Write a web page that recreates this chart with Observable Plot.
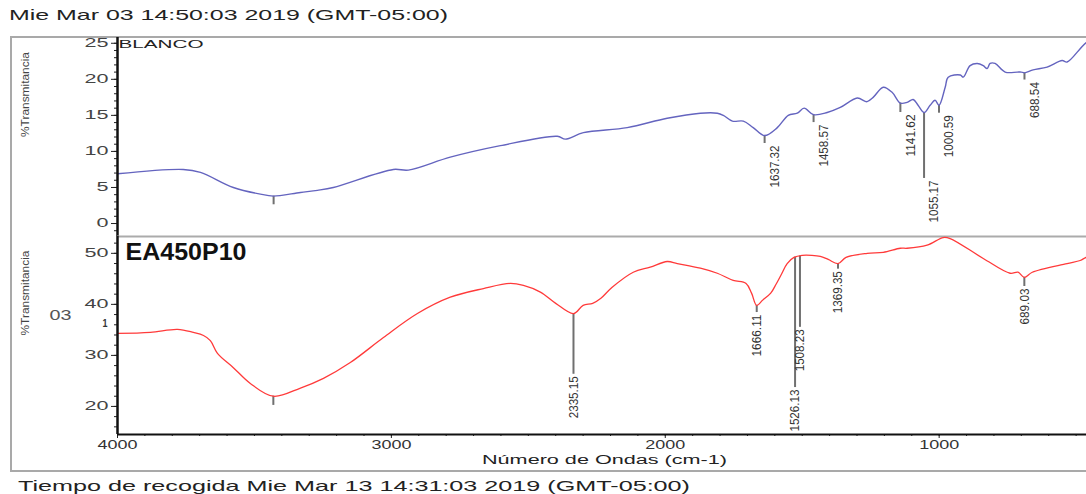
<!DOCTYPE html>
<html>
<head>
<meta charset="utf-8">
<script src="https://cdn.jsdelivr.net/npm/d3@7"></script>
<script src="https://cdn.jsdelivr.net/npm/@observablehq/plot@0.6"></script>
<style>
  html, body { margin: 0; padding: 0; background: #fff; overflow: hidden; }
  body { position: relative; width: 1086px; height: 494px; font-family: "Liberation Sans", Arial, sans-serif; }
  #frame { position: absolute; left: 10px; top: 36px; width: 1200px; height: 432px;
           border: 2px solid #a9a9a9; border-right: none; }
  .layer { position: absolute; left: 0; }
</style>
</head>
<body>
<div id="frame"></div>
<script>
// ---- spectra (wavenumber in cm-1, %T) ----
const wavenumberDomain = [4000, 400];

const blancoWn = [4000, 3760, 3697, 3577, 3453, 3430, 3332, 3270, 3212, 2993,
  2938, 2785, 2602, 2394, 2365, 2299, 2139, 1993, 1872, 1810,
  1788, 1755, 1715, 1679, 1637.32, 1591, 1551, 1518, 1493, 1458.57,
  1409, 1361, 1299, 1263, 1241, 1204, 1172, 1141.62, 1117, 1095,
  1077, 1055.17, 1033, 1015, 1000.59, 978, 967, 923, 912, 887,
  861, 839, 825, 814, 796, 759, 715, 700, 688.54, 657,
  606, 551, 533, 463, 400];
const blancoT = [6.9, 7.5, 7.1, 5.0, 3.9, 3.8, 4.3, 4.6, 5.0, 7.5,
  7.4, 9.2, 10.8, 12.1, 11.7, 12.6, 13.3, 14.6, 15.3, 15.3,
  15.0, 14.2, 14.2, 13.3, 12.2, 13.3, 15.0, 15.3, 16.0, 15.1,
  15.4, 16.1, 17.4, 16.9, 17.5, 18.9, 18.2, 16.7, 16.8, 17.2,
  16.4, 15.4, 16.4, 17.1, 16.4, 18.9, 20.3, 20.6, 20.3, 21.9,
  22.2, 21.9, 21.5, 22.2, 22.2, 21.0, 21.0, 21.0, 20.9, 21.3,
  21.7, 22.6, 22.4, 25.1, 26.5];

const sampleWn = [4000, 3880, 3781, 3723, 3686, 3661, 3635, 3577, 3515, 3431,
  3332, 3248, 3150, 3029, 2905, 2785, 2664, 2566, 2518, 2456,
  2400, 2335.15, 2300, 2265, 2235, 2195, 2117, 2055, 1993, 1956,
  1872, 1810, 1752, 1705, 1685, 1666.11, 1645, 1615, 1595, 1575,
  1555, 1530, 1500, 1465, 1434, 1405, 1369.35, 1340, 1263, 1204,
  1142, 1117, 1044, 985, 960, 839, 741, 712, 689.03, 660,
  533, 485, 464, 400];
const sampleT = [34.3, 34.5, 35.1, 34.5, 33.9, 32.9, 30.4, 27.6, 24.5, 22.0,
  23.6, 25.5, 28.6, 33.5, 38.2, 41.4, 43.1, 44.1, 43.7, 42.4,
  40.2, 38.2, 39.8, 40.2, 41.2, 43.3, 46.3, 47.3, 48.4, 48.0,
  47.1, 46.1, 44.7, 44.1, 42.2, 39.8, 40.8, 42.2, 44.0, 46.0,
  48.0, 49.2, 49.6, 49.6, 49.4, 48.8, 48.0, 49.2, 50.0, 50.2,
  51.0, 51.0, 51.6, 53.1, 52.9, 49.0, 46.1, 46.3, 45.3, 46.3,
  48.0, 48.6, 49.2, 50.5];

// ---- labelled peaks: position and %T where the leader line stops ----
const blancoPeakWn = [1637.32, 1458.57, 1141.62, 1055.17, 1000.59, 688.54];
const blancoPeakEnd = [11.1, 14.0, 15.4, 6.25, 15.3, 19.9];
const blancoMarkWn = [3430];
const blancoMarkEnd = [2.6];

const samplePeakWn = [2335.15, 1666.11, 1526.13, 1508.23, 1369.35, 689.03];
const samplePeakEnd = [26.3, 38.4, 23.7, 35.5, 46.9, 43.5];
const sampleMarkWn = [3431];
const sampleMarkEnd = [20.2];

// ---- axis ticks ----
const blancoYDomain = [-1.8, 25.8];
const blancoMajor = [0, 5, 10, 15, 20, 25];
const blancoMinor = d3.range(-1, 26, 1);
const sampleYDomain = [14.5, 53.3];
const sampleMajor = [20, 30, 40, 50];
const sampleMinor = d3.range(16, 54, 2);
const xMajor = [4000, 3000, 2000, 1000];
const xMinor = d3.range(4000, 399, -100);

const headerText = "Mie Mar 03 14:50:03 2019 (GMT-05:00)";
const footerText = "Tiempo de recogida  Mie Mar 13 14:31:03 2019 (GMT-05:00)";
const xTitle = "Número de Ondas (cm-1)";
const yTitle = "%Transmitancia";

const FONT = '"Liberation Sans", Arial, sans-serif';
const fmt = d3.format(".2f");
const intFmt = d3.format("d");

function series(wn, t) { return wn.map((w, i) => ({wn: w, t: t[i]})); }

// %T on the trace at a given wavenumber (linear between stored points)
function valueAt(wn, t, w) {
  for (let i = 0; i < wn.length - 1; i++) {
    if (w <= wn[i] && w >= wn[i + 1]) {
      const f = (wn[i] - w) / (wn[i] - wn[i + 1]);
      return t[i] + f * (t[i + 1] - t[i]);
    }
  }
  return t[t.length - 1];
}

function peaks(wn, end, traceWn, traceT, labelled) {
  return wn.map((w, i) => ({
    wn: w, end: end[i], top: valueAt(traceWn, traceT, w), label: labelled ? fmt(w) : ""
  }));
}

// widths of the stretched lettering
const textWidths = new Map([
  ["BLANCO", 85], ["EA450P10", 121], [yTitle, 85], [xTitle, 245], ["03", 22], ["1", 5]
]);

function stretchTexts(svg) {
  svg.querySelectorAll("text").forEach(el => {
    const s = el.textContent;
    if (!s) return;
    const g = el.closest("g[aria-label]");
    const role = g ? g.getAttribute("aria-label") : "";
    let len = null;
    if (role === "y-axis tick label") len = s.length * 12;
    else if (role === "x-axis tick label") len = s.length * 10;
    else if (textWidths.has(s)) len = textWidths.get(s);
    else if (/^\d+\.\d+$/.test(s)) len = s.length * 6;
    if (len) {
      el.setAttribute("textLength", len);
      el.setAttribute("lengthAdjust", "spacingAndGlyphs");
    }
  });
}

function place(node, top) {
  node.classList.add("layer");
  node.style.top = top + "px";
  document.body.appendChild(node);
  return node;
}

function captionLine(text, top, height, x, baseline, size, len) {
  const svg = d3.create("svg").attr("width", 1086).attr("height", height);
  svg.append("text").attr("x", x).attr("y", baseline)
    .attr("font-family", FONT).attr("font-size", size).attr("fill", "#222")
    .attr("textLength", len).attr("lengthAdjust", "spacingAndGlyphs")
    .text(text);
  return place(svg.node(), top);
}

const plotStyle = {background: "none", fontFamily: FONT, color: "#222", overflow: "hidden"};
const leader = {stroke: "#707070", strokeWidth: 2};
const peakText = {rotate: -90, textAnchor: "end", lineAnchor: "middle", fontSize: 13.5, fill: "#333"};

// ---- header ----
captionLine(headerText, 0, 30, 9, 19.5, 15, 439);

// ---- upper panel: BLANCO ----
const blancoPeaks = peaks(blancoPeakWn, blancoPeakEnd, blancoWn, blancoT, true);
const blancoMarks = peaks(blancoMarkWn, blancoMarkEnd, blancoWn, blancoT, false);

const upper = Plot.plot({
  width: 1086, height: 206,
  marginLeft: 117, marginRight: -17, marginTop: 7, marginBottom: 0,
  style: plotStyle,
  x: {domain: wavenumberDomain, axis: null},
  y: {domain: blancoYDomain, axis: null},
  marks: [
    Plot.axisY(blancoMinor, {tickSize: 3, tickFormat: () => "", label: null}),
    Plot.axisY(blancoMajor, {tickSize: 6, tickPadding: 3, label: null, fontSize: 12, fill: "#444", tickFormat: intFmt}),
    Plot.ruleX(blancoMarks, {x: "wn", y1: "top", y2: "end", ...leader}),
    Plot.ruleX(blancoPeaks, {x: "wn", y1: "top", y2: "end", ...leader}),
    Plot.line(series(blancoWn, blancoT), {x: "wn", y: "t", stroke: "#6464bf", strokeWidth: 1.4, curve: "catmull-rom"}),
    Plot.text(blancoPeaks, {x: "wn", y: "end", text: "label", dx: 10, dy: 2, ...peakText}),
    Plot.ruleX([wavenumberDomain[0]], {stroke: "#111", strokeWidth: 2.5}),
    Plot.text([yTitle], {text: d => d, frameAnchor: "left", dx: -92, rotate: -90, fontSize: 11.5, fill: "#444"}),
    Plot.text(["BLANCO"], {text: d => d, frameAnchor: "top-left", dx: 1, dy: 7, textAnchor: "start", lineAnchor: "middle", fontSize: 11, fill: "#222"})
  ]
});
place(upper, 30);
stretchTexts(upper);

// ---- lower panel: EA450P10 ----
const samplePeaks = peaks(samplePeakWn, samplePeakEnd, sampleWn, sampleT, true);
const sampleMarks = peaks(sampleMarkWn, sampleMarkEnd, sampleWn, sampleT, false);

const lower = Plot.plot({
  width: 1086, height: 244,
  marginLeft: 117, marginRight: -17, marginTop: 6, marginBottom: 40,
  style: plotStyle,
  x: {domain: wavenumberDomain, axis: null},
  y: {domain: sampleYDomain, axis: null},
  marks: [
    Plot.ruleY([sampleYDomain[1]], {stroke: "#ababab", strokeWidth: 2}),
    Plot.axisY(sampleMinor, {tickSize: 3, tickFormat: () => "", label: null}),
    Plot.axisY(sampleMajor, {tickSize: 6, tickPadding: 3, label: null, fontSize: 12, fill: "#444", tickFormat: intFmt}),
    Plot.axisX(xMinor, {tickSize: 2, tickFormat: () => "", label: null}),
    Plot.axisX(xMajor, {tickSize: 4, tickPadding: 2, label: null, fontSize: 12, fill: "#333", tickFormat: intFmt}),
    Plot.ruleX(sampleMarks, {x: "wn", y1: "top", y2: "end", ...leader}),
    Plot.ruleX(samplePeaks, {x: "wn", y1: "top", y2: "end", ...leader}),
    Plot.line(series(sampleWn, sampleT), {x: "wn", y: "t", stroke: "#ff3a3a", strokeWidth: 1.3, curve: "catmull-rom"}),
    Plot.text(samplePeaks, {x: "wn", y: "end", text: "label", dx: 0, dy: 2, ...peakText}),
    Plot.ruleY([sampleYDomain[0]], {stroke: "#111", strokeWidth: 2}),
    Plot.ruleX([wavenumberDomain[0]], {stroke: "#111", strokeWidth: 2.5}),
    Plot.text([yTitle], {text: d => d, frameAnchor: "left", dx: -92, rotate: -90, fontSize: 11.5, fill: "#444"}),
    Plot.text(["03"], {text: d => d, frameAnchor: "left", dx: -68, dy: -20, fontSize: 14, fill: "#555"}),
    Plot.text(["1"], {text: d => d, frameAnchor: "left", dx: -15, dy: -12, fontSize: 11, fontWeight: "bold", fill: "#333"}),
    Plot.text(["EA450P10"], {text: d => d, frameAnchor: "top-left", dx: 8, dy: 16, textAnchor: "start", lineAnchor: "middle", fontSize: 24, fontWeight: "bold", fill: "#111"}),
    Plot.text([xTitle], {text: d => d, frameAnchor: "bottom", dx: -6, dy: 29, fontSize: 12.5, fill: "#222"})
  ]
});
place(lower, 230);
stretchTexts(lower);

// ---- footer ----
captionLine(footerText, 474, 20, 18, 17, 14.5, 672);
</script>
</body>
</html>
